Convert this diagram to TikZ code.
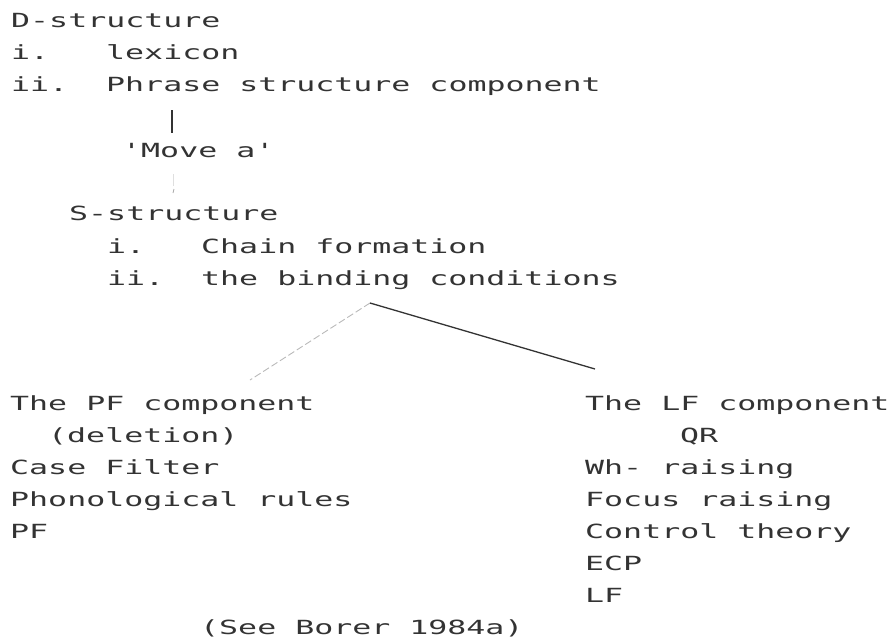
\documentclass[tikz,border=0pt]{standalone}
\usepackage{fontspec}
\newfontfamily\dotfont[FakeStretch=1.62]{DejaVu Sans Mono}
\definecolor{ink}{gray}{0.2}
\tikzset{
  txt/.style={anchor=base west, inner sep=0pt, text=ink, font=\dotfont\fontsize{19.5}{22}\selectfont},
  stem/.style={draw=ink, line width=1.2pt},
  faintline/.style={draw=gray!55, line width=0.9pt, dash pattern=on 7pt off 3pt},
  darkline/.style={draw=ink, line width=1.3pt},
}
\begin{document}
\begin{tikzpicture}[x=1pt,y=-1pt]
\useasboundingbox (0,0) rectangle (892,640);
% upper block
\node[txt] (dstr) at (11,27) {D-structure};
\node[txt] (n1) at (11,59) {i.};
\node[txt] (lex) at (106,59) {lexicon};
\node[txt] (n2) at (11,91) {ii.};
\node[txt] (psc) at (106,91) {Phrase structure component};
\coordinate (stemtop) at (172,110);
\coordinate (stembot) at (172,133);
\draw[stem] (stemtop) -- (stembot);
\node[txt] (move) at (122,157) {'Move a'};
\coordinate (ticka) at (173,174);
\coordinate (tickb) at (173,186);
\draw[draw=gray!25, line width=0.8pt] (ticka) -- (tickb);
\coordinate (tickc) at (174,189);
\coordinate (tickd) at (173,193);
\draw[draw=gray!70, line width=0.8pt] (tickc) -- (tickd);
\node[txt] (sstr) at (69,220) {S-structure};
\node[txt] (n3) at (107,253) {i.};
\node[txt] (chain) at (201,253) {Chain formation};
\node[txt] (n4) at (107,285) {ii.};
\node[txt] (bind) at (201,285) {the binding conditions};
% tree branches
\coordinate (apex) at (370,303);
\coordinate (lend) at (250,380);
\coordinate (rend) at (595,369);
\draw[faintline] (apex) -- (lend);
\draw[darkline] (apex) -- (rend);
% PF column
\node[txt] (pf1) at (10,410) {The PF component};
\node[txt] (pf2) at (48,442) {(deletion)};
\node[txt] (pf3) at (10,474) {Case Filter};
\node[txt] (pf4) at (10,506) {Phonological rules};
\node[txt] (pf5) at (10,538) {PF};
% LF column
\node[txt] (lf1) at (585,410) {The LF component};
\node[txt] (lf2) at (680,442) {QR};
\node[txt] (lf3) at (585,474) {Wh- raising};
\node[txt] (lf4) at (585,506) {Focus raising};
\node[txt] (lf5) at (585,538) {Control theory};
\node[txt] (lf6) at (585,570) {ECP};
\node[txt] (lf7) at (585,602) {LF};
\node[txt] (see) at (200,634) {(See Borer 1984a)};
\end{tikzpicture}
\end{document}
